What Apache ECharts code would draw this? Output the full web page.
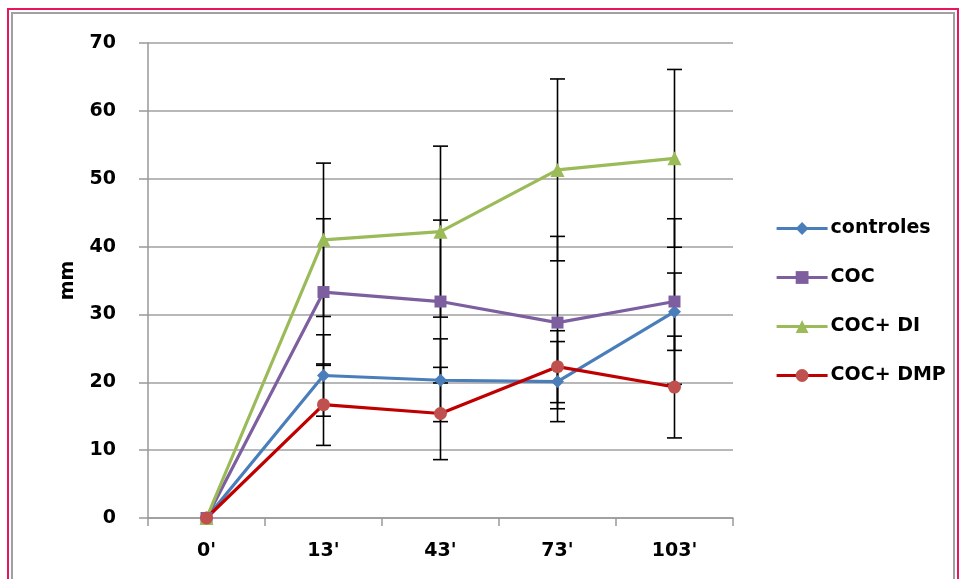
<!DOCTYPE html>
<html>
<head>
<meta charset="utf-8">
<script src="https://cdn.jsdelivr.net/npm/echarts@6/dist/echarts.min.js"></script>
<style>
html,body{margin:0;padding:0;background:#fff;}
#chart{width:962px;height:579px;}
</style>
</head>
<body>
<div id="chart"></div>
<script>
const categories = ["0'", "13'", "43'", "73'", "103'"];
const yTicks = [0, 10, 20, 30, 40, 50, 60, 70];

const controles    = [0, 21.0, 20.3, 20.1, 30.4];
const controlesErr = [0, 6.0, 6.1, 5.9, 5.7];
const coc          = [0, 33.3, 31.9, 28.8, 31.9];
const cocErr       = [0, 10.8, 12.0, 12.7, 12.2];
const cocDi        = [0, 41.0, 42.2, 51.3, 53.0];
const cocDiErr     = [0, 11.3, 12.6, 13.4, 13.1];
const cocDmp       = [0, 16.7, 15.4, 22.3, 19.3];
const cocDmpErr    = [0, 6.0, 6.8, 5.3, 7.5];

const seriesDefs = [
  {name: 'controles', data: controles, err: controlesErr, line: '#4A7EBB', marker: '#4A7EBB', symbol: 'diamond', size: 13},
  {name: 'COC', data: coc, err: cocErr, line: '#7D5FA0', marker: '#7D5FA0', symbol: 'rect', size: 12},
  {name: 'COC+ DI', data: cocDi, err: cocDiErr, line: '#9BBB59', marker: '#9BBB59', symbol: 'triangle', size: 14},
  {name: 'COC+ DMP', data: cocDmp, err: cocDmpErr, line: '#C00000', marker: '#C0504D', symbol: 'circle', size: 13}
];

const chart = echarts.init(document.getElementById('chart'));
const labelFont = {fontFamily: 'DejaVu Sans', fontWeight: 'bold', fontSize: 19, color: '#000'};

const series = [];
seriesDefs.forEach(function (s) {
  series.push({
    type: 'custom',
    name: s.name + '_err',
    z: 1,
    silent: true,
    data: s.data.map(function (v, i) { return [i, v - s.err[i], v + s.err[i]]; }),
    renderItem: function (params, api) {
      if (api.value(2) === api.value(1)) return null;
      const lo = api.coord([api.value(0), api.value(1)]);
      const hi = api.coord([api.value(0), api.value(2)]);
      const hw = 7.5;
      const st = {stroke: '#000', lineWidth: 1.6};
      return {
        type: 'group',
        children: [
          {type: 'line', shape: {x1: hi[0], y1: hi[1], x2: lo[0], y2: lo[1]}, style: st},
          {type: 'line', shape: {x1: hi[0] - hw, y1: hi[1], x2: hi[0] + hw, y2: hi[1]}, style: st},
          {type: 'line', shape: {x1: lo[0] - hw, y1: lo[1], x2: lo[0] + hw, y2: lo[1]}, style: st}
        ]
      };
    }
  });
});
seriesDefs.forEach(function (s) {
  series.push({
    type: 'line',
    name: s.name,
    z: 3,
    data: s.data,
    symbol: s.symbol,
    symbolSize: s.size,
    showAllSymbol: true,
    lineStyle: {color: s.line, width: 3.2},
    itemStyle: {color: s.marker, borderWidth: 0},
    emphasis: {disabled: true},
    animation: false
  });
});

chart.setOption({
  animation: false,
  backgroundColor: '#fff',
  graphic: [
    {type: 'rect', shape: {x: 8, y: 9, width: 950, height: 600}, style: {fill: 'none', stroke: '#E8175D', lineWidth: 2}, z: 100},
    {type: 'rect', shape: {x: 12, y: 13, width: 942, height: 600}, style: {fill: 'none', stroke: '#A0A0A0', lineWidth: 2}, z: 100}
  ],
  grid: {left: 148, right: 229, top: 43, bottom: 61, containLabel: false},
  legend: {
    orient: 'vertical',
    left: 770,
    top: 214,
    itemWidth: 51,
    itemHeight: 16,
    itemGap: 30,
    data: seriesDefs.map(function (s) { return s.name; }),
    lineStyle: {width: 3.2},
    textStyle: {fontFamily: 'DejaVu Sans', fontWeight: 'bold', fontSize: 19, color: '#000', padding: [0, 0, 0, -2]}
  },
  xAxis: {
    type: 'category',
    data: categories,
    boundaryGap: true,
    axisLine: {lineStyle: {color: '#999', width: 1.5}},
    axisTick: {show: true, alignWithLabel: false, length: 8, lineStyle: {color: '#999', width: 1.5}},
    axisLabel: Object.assign({margin: 24}, labelFont),
    splitLine: {show: false}
  },
  yAxis: {
    type: 'value',
    min: yTicks[0],
    max: yTicks[yTicks.length - 1],
    interval: 10,
    name: 'mm',
    nameLocation: 'middle',
    nameRotate: 90,
    nameGap: 70,
    nameTextStyle: labelFont,
    axisLine: {show: true, lineStyle: {color: '#999', width: 1.5}},
    axisTick: {show: true, length: 9, lineStyle: {color: '#999', width: 1.5}},
    axisLabel: Object.assign({margin: 32}, labelFont),
    splitLine: {show: true, lineStyle: {color: '#A0A0A0', width: 1.5}}
  },
  series: series
});
</script>
</body>
</html>
